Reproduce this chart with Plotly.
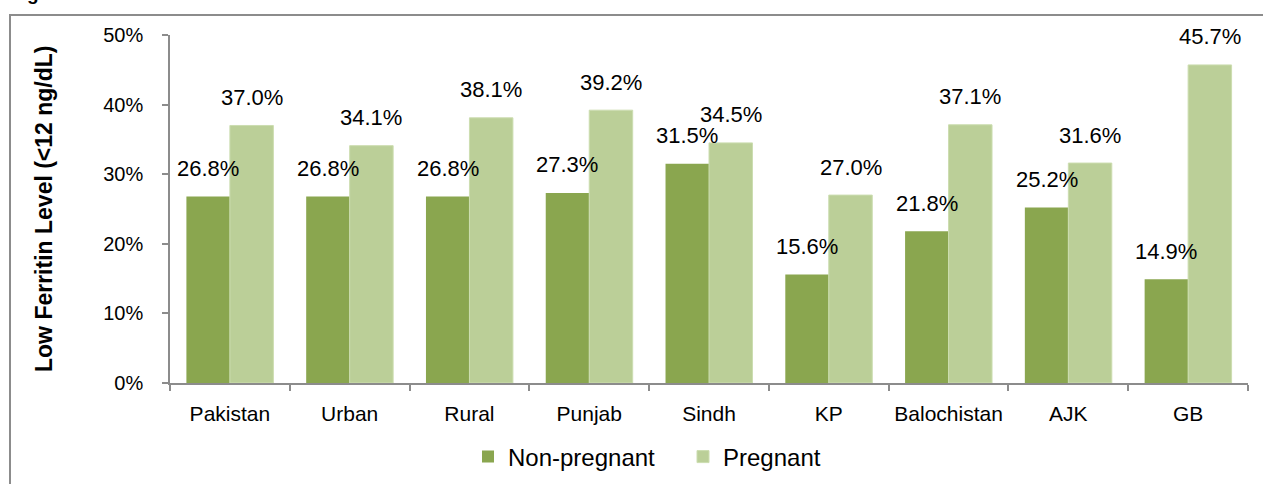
import plotly.graph_objects as go

categories = ["Pakistan", "Urban", "Rural", "Punjab", "Sindh", "KP", "Balochistan", "AJK", "GB"]
non_pregnant = [26.8, 26.8, 26.8, 27.3, 31.5, 15.6, 21.8, 25.2, 14.9]
pregnant = [37.0, 34.1, 38.1, 39.2, 34.5, 27.0, 37.1, 31.6, 45.7]
y_ticks = [0, 10, 20, 30, 40, 50]
y_tick_labels = ["0%", "10%", "20%", "30%", "40%", "50%"]
series_names = ["Non-pregnant", "Pregnant"]

W, H = 1263, 484
L, R, T, B = 170, 15, 35, 101
pw = W - L - R
ph = H - T - B
FONT = "Liberation Sans"
C1 = "#8AA64F"
C2 = "#BBCF98"
AX = "#8C8C8C"
BARGAP = 0.274

fig = go.Figure()
fig.add_bar(name=series_names[0], x=categories, y=non_pregnant, marker=dict(color=C1, line=dict(width=0)))
fig.add_bar(name=series_names[1], x=categories, y=pregnant, marker=dict(color=C2, line=dict(color="#CCDDB0", width=1)))

cat_px = pw / len(categories)
bar_px = cat_px * (1 - BARGAP) / 2
for vals, sgn in ((non_pregnant, -1), (pregnant, 1)):
    for c, v in zip(categories, vals):
        fig.add_annotation(x=c, y=v, text=f"{v:.1f}%", showarrow=False,
                           xshift=sgn * bar_px / 2, yshift=28, yanchor="middle",
                           font=dict(family=FONT, size=22, color="#000"))

# y-axis title
fig.add_annotation(xref="paper", yref="paper", x=(44 - L) / pw, y=0.5,
                   text="<b>Low Ferritin Level (&lt;12 ng/dL)</b>", textangle=-90,
                   showarrow=False, xanchor="center", yanchor="middle",
                   font=dict(family=FONT, size=23, color="#000"))

# partially visible figure caption at the very top
fig.add_annotation(xref="paper", yref="paper", x=(8 - L) / pw, y=(T + ph - 6) / ph,
                   text="<b>Figure: Low Ferritin Levels</b>", showarrow=False,
                   xanchor="left", yanchor="bottom",
                   font=dict(family=FONT, size=19, color="#000"))

# chart frame
fig.add_shape(type="rect", xref="paper", yref="paper",
              x0=(10 - L) / pw, x1=(W + 10 - L) / pw,
              y0=(T + ph - (H + 10)) / ph, y1=(T + ph - 15) / ph,
              line=dict(color="#8C8C8C", width=2), fillcolor="rgba(0,0,0,0)", layer="below")

fig.update_layout(
    width=W, height=H,
    margin=dict(l=L, r=R, t=T, b=B, autoexpand=False),
    paper_bgcolor="white", plot_bgcolor="white",
    barmode="group", bargap=BARGAP, bargroupgap=0,
    font=dict(family=FONT, color="#000"),
    showlegend=True,
    legend=dict(orientation="h", x=(683 - L) / pw, xanchor="center",
                y=(T + ph - 457) / ph, yanchor="middle",
                font=dict(family=FONT, size=24), itemwidth=30,
                entrywidth=170,
                bgcolor="rgba(0,0,0,0)"),
    xaxis=dict(showline=True, linecolor=AX, linewidth=1.5, ticks="outside",
               tickson="boundaries", ticklen=6, tickcolor=AX, tickwidth=1.5,
               tickfont=dict(family=FONT, size=21), ticklabelstandoff=11,
               showgrid=False, zeroline=False),
    yaxis=dict(range=[0, 50], tickvals=y_ticks, ticktext=y_tick_labels, showline=True,
               linecolor=AX, linewidth=1.5, ticks="outside", ticklen=6,
               tickcolor=AX, tickwidth=1.5, tickfont=dict(family=FONT, size=20),
               ticklabelstandoff=15, showgrid=False, zeroline=False),
)

fig.write_html("out.html", config={"displayModeBar": False},
               post_script="document.body.style.margin='0px';")
